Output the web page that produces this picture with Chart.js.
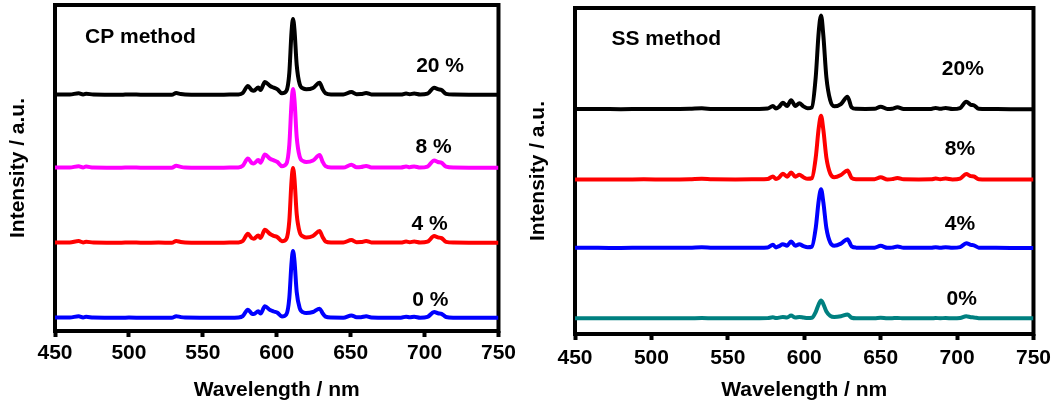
<!DOCTYPE html>
<html>
<head>
<meta charset="utf-8">
<script src="https://cdn.jsdelivr.net/npm/chart.js@4/dist/chart.umd.min.js"></script>
<style>
  body { margin: 0; background: #fff; }
  #wrap { position: relative; width: 1057px; height: 407px; }
  #cpChart { position: absolute; left: 0; top: 0; }
  #ssChart { position: absolute; left: 520px; top: 0; }
</style>
</head>
<body>
<div id="wrap">
  <canvas id="cpChart" width="520" height="407"></canvas>
  <canvas id="ssChart" width="537" height="407"></canvas>
</div>
<script>
// x tick labels (nm)
const xTicks = [450, 500, 550, 600, 650, 700, 750];

// ---- CP method panel ----
const cpLabels = ['20 %', '8 %', '4 %', '0 %'];
const cpOffsets = [236, 163, 88, 13];
const cpWavelength = [
  450, 460, 466, 469, 471, 476, 485, 495, 500, 510,
  520, 529, 532, 535, 538, 548, 558, 568, 574, 577,
  580.5, 583, 584.5, 587.5, 589, 592, 595.5, 598, 600.5, 603.5,
  606.5, 608.5, 610, 611, 612, 613.5, 615.5, 618, 620, 624.5,
  629, 631, 633, 637, 645, 650.5, 654, 657, 660.5, 664,
  675, 684, 687.5, 690, 693, 697, 702, 706.5, 709, 711.5,
  714.5, 720, 730, 740, 750
];
const cp20 = [
  0.5, 0.5, 1.8, 0.6, 1.3, 0.4, 0.3, 0.2, 0.6, 0.2,
  0.3, 0.2, 2, 1, 0.5, 0.3, 0.3, 0.4, 0.6, 2,
  9, 5, 4.3, 7.5, 5, 13, 9, 7.3, 5.7, 1.7,
  4, 22, 63, 76, 65, 30, 11, 6.5, 5.7, 7,
  12.3, 6, 1.7, 0.5, 0.4, 3, 0.8, 0.9, 2, 0.6,
  0.4, 0.4, 1.5, 0.8, 1.5, 0.4, 1.3, 7.3, 5.8, 5,
  1.2, 0.4, 0.3, 0.3, 0.2
];
const cp8 = [
  0.4, 0.5, 1.8, 0.6, 1.4, 0.4, 0.3, 0.3, 0.6, 0.2,
  0.3, 0.3, 2.2, 1.1, 0.5, 0.3, 0.3, 0.4, 0.6, 2.2,
  9.5, 5.2, 4.5, 8, 5.2, 13.5, 9.3, 7.6, 6, 1.8,
  4.2, 23, 65, 79, 68, 31, 11.5, 6.8, 6, 7.4,
  13, 6.3, 1.8, 0.5, 0.4, 3.2, 0.8, 1, 2.1, 0.6,
  0.4, 0.4, 1.6, 0.8, 1.6, 0.4, 1.4, 7.6, 6, 5.2,
  1.3, 0.4, 0.3, 0.3, 0.2
];
const cp4 = [
  0.5, 0.6, 1.9, 0.6, 1.3, 0.4, 0.3, 0.3, 0.6, 0.2,
  0.4, 0.2, 2.1, 1, 0.5, 0.3, 0.3, 0.4, 0.6, 2,
  9.2, 5, 4.3, 7.6, 5, 13.2, 9, 7.2, 5.8, 1.7,
  4, 22, 62, 75, 64, 29, 11, 6.4, 5.6, 7,
  12, 6, 1.6, 0.5, 0.4, 3, 0.8, 0.9, 2, 0.6,
  0.4, 0.4, 1.5, 0.8, 1.5, 0.4, 1.3, 7, 5.6, 4.9,
  1.2, 0.4, 0.3, 0.3, 0.2
];
const cp0 = [
  0.5, 0.5, 1.7, 0.5, 1.2, 0.4, 0.3, 0.2, 0.5, 0.2,
  0.3, 0.2, 1.8, 0.9, 0.4, 0.3, 0.3, 0.3, 0.5, 1.8,
  8.3, 4.5, 3.9, 6.8, 4.5, 11.7, 8, 6.5, 5.2, 1.5,
  3.6, 20, 55, 67, 57, 26, 10, 5.6, 5, 6,
  9.3, 4.8, 1.4, 0.4, 0.3, 2.6, 0.7, 0.8, 1.7, 0.5,
  0.3, 0.3, 1.3, 0.7, 1.3, 0.3, 1.1, 6, 4.8, 4.2,
  1, 0.3, 0.2, 0.3, 0.2
];
const cpColors = ['#000000', '#ff00ff', '#ff0000', '#0000ff'];

// ---- SS method panel ----
const ssLabels = ['20%', '8%', '4%', '0%'];
const ssOffsets = [225, 154.5, 86, 15.5];
const ssWavelength = [
  450, 465, 480, 495, 510, 525, 533, 540, 555, 570,
  576, 579.5, 581.5, 583.5, 586, 588.8, 591.4, 594.2, 596.8, 599.5,
  602.2, 605, 607.5, 609.5, 611, 612.5, 614.5, 617, 619.6, 624,
  628.3, 631, 634, 640, 646, 650, 654.4, 657.5, 661, 665,
  675, 683, 686, 689, 692.5, 697, 702, 706, 709, 711,
  714.2, 720, 735, 750
];
const ss20 = [
  0.3, 0.3, 0.2, 0.4, 0.3, 0.5, 1, 0.4, 0.3, 0.4,
  0.8, 3.3, 0.8, 2.5, 6.5, 3.3, 9, 3.3, 6, 3,
  1, 2, 32, 78, 94, 74, 32, 9, 3, 5.3,
  12.7, 2, 0.5, 0.4, 0.5, 2.7, 0.3, 0.6, 2, 0.4,
  0.3, 0.4, 1.4, 0.5, 1.4, 0.3, 1.3, 7.7, 4.5, 4,
  0.5, 0.3, 0.2, 0.2
];
const ss8 = [
  0.3, 0.3, 0.2, 0.4, 0.3, 0.5, 1, 0.4, 0.3, 0.4,
  0.7, 3.3, 0.8, 2.2, 6, 3, 7.3, 3, 5, 2.5,
  0.9, 1.6, 22, 52, 64, 50, 22, 6.2, 2.5, 4.8,
  9.3, 1.8, 0.5, 0.4, 0.5, 2.5, 0.3, 0.6, 1.8, 0.4,
  0.3, 0.4, 1.2, 0.5, 1.2, 0.3, 1.2, 5.7, 3.6, 3.3,
  0.5, 0.3, 0.2, 0.2
];
const ss4 = [
  0.3, 0.3, 0.2, 0.4, 0.3, 0.4, 0.9, 0.4, 0.3, 0.4,
  0.6, 3.3, 0.7, 2, 4, 2.5, 6.7, 2.4, 4, 2,
  0.8, 1.5, 20, 48, 59, 46, 20, 5.6, 2.3, 4.5,
  9, 1.7, 0.5, 0.4, 0.5, 2.3, 0.3, 0.5, 1.6, 0.4,
  0.3, 0.3, 1, 0.4, 1, 0.3, 1, 5, 3.2, 2.8,
  0.5, 0.3, 0.2, 0.2
];
const ss0 = [
  0.2, 0.2, 0.2, 0.3, 0.2, 0.3, 0.5, 0.3, 0.2, 0.3,
  0.4, 1.2, 0.4, 0.9, 1.5, 1, 3, 1, 1.6, 1,
  0.5, 0.8, 6.5, 14.5, 18, 14.5, 7, 2.7, 1.5, 2.2,
  4, 0.8, 0.3, 0.3, 0.3, 0.8, 0.2, 0.3, 0.6, 0.2,
  0.2, 0.2, 0.5, 0.3, 0.5, 0.2, 0.5, 2.3, 1.3, 1.1,
  0.3, 0.2, 0.2, 0.2
];
const ssColors = ['#000000', '#ff0000', '#0000ff', '#008080'];

const FONT = '"Liberation Sans", Arial, Helvetica, sans-serif';
Chart.defaults.font.family = FONT;
Chart.defaults.color = '#000';

// frame round the plot area + text labels inside it
const panelDeco = {
  id: 'panelDeco',
  beforeDatasetsDraw(chart) {
    const { ctx, chartArea: a } = chart;
    ctx.save();
    ctx.strokeStyle = '#000';
    ctx.lineWidth = 4;
    ctx.strokeRect(a.left, a.top, a.right - a.left, a.bottom - a.top);
    ctx.restore();
  },
  afterDatasetsDraw(chart, args, opts) {
    const { ctx, scales: { x, y } } = chart;
    ctx.save();
    ctx.font = 'bold 21px ' + FONT;
    ctx.fillStyle = '#000';
    ctx.textAlign = 'left';
    ctx.textBaseline = 'alphabetic';
    opts.items.forEach(t => {
      ctx.fillText(t.text, x.getPixelForValue(t.x), y.getPixelForValue(t.y));
    });
    ctx.restore();
  }
};

function buildSets(wl, series, offsets, colors) {
  return series.map((vals, i) => ({
    data: vals.map((v, k) => ({ x: wl[k], y: v + offsets[i] })),
    borderColor: colors[i],
    borderWidth: 4,
    pointRadius: 0,
    fill: false,
    cubicInterpolationMode: 'monotone'
  }));
}

function drawPanel(id, sets, ymax, pad, xHeight, tickPad, items) {
  return new Chart(document.getElementById(id), {
    type: 'line',
    data: { datasets: sets },
    options: {
      responsive: false,
      animation: false,
      layout: { padding: pad },
      plugins: {
        legend: { display: false },
        tooltip: { enabled: false },
        panelDeco: { items: items }
      },
      scales: {
        x: {
          type: 'linear',
          min: 450,
          max: 750,
          afterBuildTicks: s => { s.ticks = xTicks.map(v => ({ value: v })); },
          ticks: { font: { size: 21, weight: 'bold' }, color: '#000', padding: tickPad, maxRotation: 0, autoSkip: false },
          grid: { display: true, drawOnChartArea: false, drawTicks: true, tickLength: 6, tickWidth: 4, tickColor: '#000' },
          border: { display: false },
          title: { display: true, text: 'Wavelength / nm', font: { size: 21, weight: 'bold' }, color: '#000', padding: { top: 0, bottom: 4 } },
          afterFit: s => { s.height = xHeight; }
        },
        y: {
          min: 0,
          max: ymax,
          ticks: { display: false },
          grid: { display: false },
          border: { display: false },
          title: { display: true, text: 'Intensity / a.u.', font: { size: 21, weight: 'bold' }, color: '#000', padding: { top: 6, bottom: 0 } },
          afterFit: s => { s.width = 55; }
        }
      }
    },
    plugins: [panelDeco]
  });
}

drawPanel('cpChart',
  buildSets(cpWavelength, [cp20, cp8, cp4, cp0], cpOffsets, cpColors),
  326, { top: 5, right: 21, left: 0, bottom: 0 }, 76, 4,
  [
    { text: 'CP method', x: 470.3, y: 288.3 },
    { text: cpLabels[0], x: 694.3, y: 259.3 },
    { text: cpLabels[1], x: 693.9, y: 177.7 },
    { text: cpLabels[2], x: 691.2, y: 101 },
    { text: cpLabels[3], x: 691.7, y: 25.3 }
  ]);

drawPanel('ssChart',
  buildSets(ssWavelength, [ss20, ss8, ss4, ss0], ssOffsets, ssColors),
  326.5, { top: 8, right: 22, left: 0, bottom: 0 }, 73, 6,
  [
    { text: 'SS method', x: 473.9, y: 289.5 },
    { text: ssLabels[0], x: 690, y: 259.5 },
    { text: ssLabels[1], x: 692, y: 179.5 },
    { text: ssLabels[2], x: 692, y: 104.5 },
    { text: ssLabels[3], x: 693.1, y: 29.5 }
  ]);
</script>
</body>
</html>
